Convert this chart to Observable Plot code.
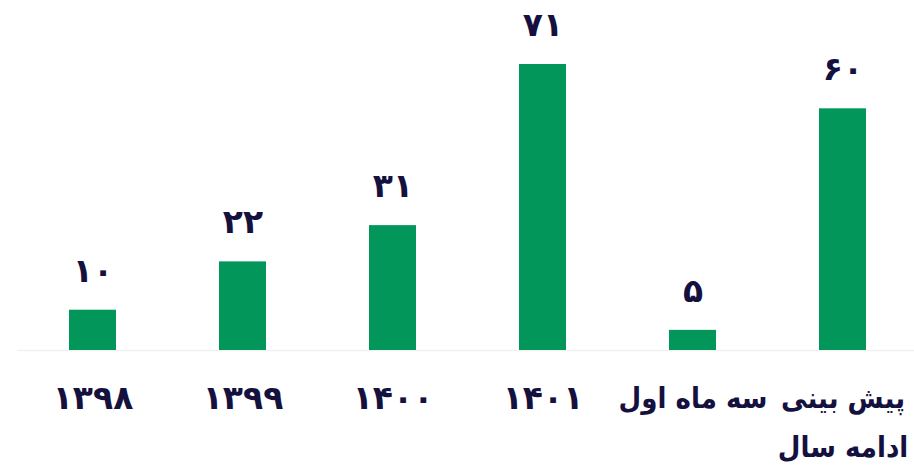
<!DOCTYPE html>
<html>
<head>
<meta charset="utf-8">
<script src="https://cdn.jsdelivr.net/npm/d3@7"></script>
<script src="https://cdn.jsdelivr.net/npm/@observablehq/plot@0.6"></script>
<style>
  html, body { margin: 0; padding: 0; background: #fff; }
  #chart svg { display: block; }
</style>
</head>
<body>
<div id="chart"></div>
<script>
const categories = ["۱۳۹۸", "۱۳۹۹", "۱۴۰۰", "۱۴۰۱", "سه ماه اول", "پیش بینی\nادامه سال"];
const values = [10, 22, 31, 71, 5, 60];

const faDigits = "۰۱۲۳۴۵۶۷۸۹";
const toFa = (n) => String(n).replace(/\d/g, (d) => faDigits[+d]);

const data = categories.map((c, i) => ({cat: c, value: values[i], label: toFa(values[i])}));

const ink = "#14113f";
const green = "#03965a";
const isDigits = (s) => /^[۰-۹]+$/.test(s);

const chart = Plot.plot({
  width: 914,
  height: 467,
  marginTop: 64,
  marginBottom: 117,
  marginLeft: 17,
  marginRight: 0,
  x: {domain: categories, range: [17, 917], paddingInner: 0.687, paddingOuter: 0.3435, axis: null},
  y: {domain: [0, 71], axis: null},
  style: {fontFamily: "'DejaVu Sans', sans-serif", background: "#fff"},
  marks: [
    Plot.ruleY([0], {stroke: "#f1f1f1", strokeWidth: 1.5}),
    Plot.barY(data, {x: "cat", y: "value", fill: green}),
    Plot.text(data, {x: "cat", y: "value", text: "label", dy: -39, fontSize: 33, fontWeight: "bold", fill: ink, lineAnchor: "middle"}),
    Plot.text(data.filter((d) => isDigits(d.cat)), {x: "cat", y: 0, text: "cat", dy: 48, fontSize: 33, fontWeight: "bold", fill: ink, lineAnchor: "middle"}),
    Plot.text(data.filter((d) => !isDigits(d.cat)), {x: "cat", y: 0, text: "cat", dy: 22, fontSize: 29, fontWeight: "bold", fill: ink, lineAnchor: "top", lineHeight: 1.7, fontFamily: "'DejaVu Sans Condensed', 'DejaVu Sans', sans-serif", fontStretch: "condensed"})
  ]
});
document.getElementById("chart").append(chart);
</script>
</body>
</html>
